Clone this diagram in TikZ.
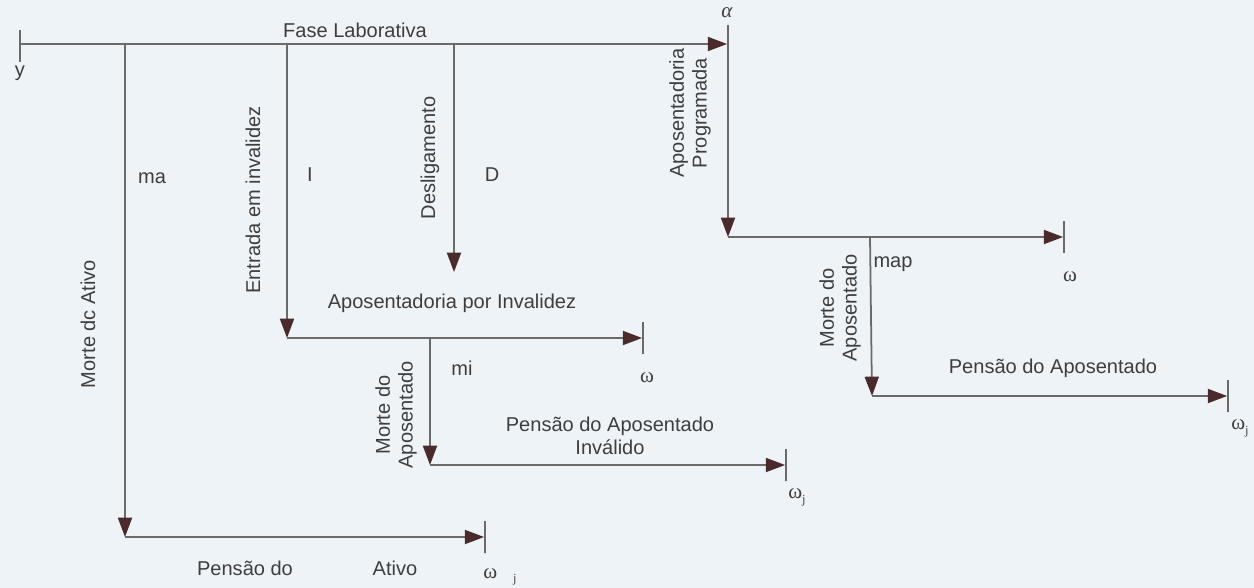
\documentclass[tikz,border=0pt]{standalone}
\usepackage{fontspec}
\setmainfont{Liberation Sans}
\newfontfamily\omfont{Liberation Serif}
\usepackage{tikz}
\usetikzlibrary{arrows.meta, positioning}

\definecolor{paper}{HTML}{EEF3F8}
\definecolor{lineg}{HTML}{6A6A6A}
\definecolor{tipc}{HTML}{4A2A2A}
\definecolor{inkg}{HTML}{3E3E3E}

\tikzset{
  flow/.style={draw=lineg, line width=1pt, -{Triangle[length=11pt, width=8pt, color=tipc]}},
  tickbar/.style={draw=lineg, line width=1pt, minimum width=0pt, minimum height=0.64cm, inner sep=0pt},
  lab/.style={text=inkg, font=\fontsize{11.4}{13}\selectfont, inner sep=0pt},
  vlab/.style={lab, rotate=90, align=center},
  omlab/.style={text=inkg, font=\omfont\fontsize{12}{14}\selectfont, inner sep=0pt}
}

\begin{document}
\begin{tikzpicture}[x=0.02cm, y=-0.02cm]

  % page with the scanned paper tone
  \fill[paper] (0,0) rectangle (1254,588);
  \useasboundingbox (0,0) rectangle (1254,588);

  % Levels of the horizontal lines
  \def\top{44}
  \def\prog{237}
  \def\inv{338}
  \def\pinv{465}
  \def\pap{396}
  \def\pat{537}

  % === Junction points
  \coordinate (start) at (20,\top);
  \coordinate (ma)    at (125,\top);
  \coordinate (ent)   at (287,\top);
  \coordinate (desl)  at (454,\top);
  \coordinate (dEnd)  at (454,272);
  \coordinate (aTop)  at (728,25);
  \coordinate (aRet)  at (728,\prog);
  \coordinate (map)   at (870,\prog);
  \coordinate (mapE)  at (872,\pap);
  \coordinate (iRet)  at (287,\inv);
  \coordinate (mi)    at (430,\inv);
  \coordinate (miE)   at (430,\pinv);
  \coordinate (maE)   at (125,\pat);

  % === End ticks
  \node[tickbar] (tStart) at (20,46) {};
  \node[tickbar] (tAlpha) at (728,\top) {};
  \node[tickbar] (tProg)  at (1064,\prog) {};
  \node[tickbar] (tInv)   at (643,\inv) {};
  \node[tickbar] (tPinv)  at (786,\pinv) {};
  \node[tickbar] (tPap)   at (1228,\pap) {};
  \node[tickbar] (tPat)   at (485,\pat) {};

  % === Fase laborativa
  \draw[flow] (start) -- (tAlpha);
  \draw[flow] (ma) -- (maE);
  \draw[flow] (ent) -- (iRet);
  \draw[flow] (desl) -- (dEnd);
  \draw[flow] (aTop) -- (aRet);

  % === Aposentadorias e pensoes
  \draw[flow] (aRet) -- (tProg);
  \draw[flow] (map) -- (mapE);
  \draw[flow] (mapE) -- (tPap);
  \draw[flow] (iRet) -- (tInv);
  \draw[flow] (mi) -- (miE);
  \draw[flow] (miE) -- (tPinv);
  \draw[flow] (maE) -- (tPat);

  % Labels
  \node[lab] (fase) at (355,30) {Fase Laborativa};
  \node[lab] (y) at (20,73) {y};
  \node[omlab] (alpha) at (727,13) {\itshape α};
  \node[lab] (lma) at (152,178) {ma};
  \node[lab] (lI) at (310,175) {I};
  \node[lab] (lD) at (492,175) {D};
  \node[lab] (lmi) at (462,368) {mi};
  \node[lab] (lmap) at (893,264) {map};

  \node[vlab] (mAtivo) at (88,324) {Morte dc Ativo};
  \node[vlab] (eInv) at (253,200) {Entrada em invalidez};
  \node[vlab] (dsl) at (430,158) {Desligamento};
  \node[vlab] (aProg) at (690,113) {Aposentadoria\\Programada};
  \node[vlab] (mApI) at (396,415) {Morte do\\Aposentado};
  \node[vlab] (mApP) at (840,308) {Morte do\\Aposentado};

  \node[lab] (apInv) at (452,303) {Aposentadoria por Invalidez};
  \node[lab, align=center] (penI) at (610,436) {Pensão do Aposentado\\Inválido};
  \node[lab] (penP) at (1053,368) {Pensão do Aposentado};
  \node[lab] (penA1) at (245,568) {Pensão do};
  \node[lab] (penA2) at (395,568) {Ativo};

  \node[omlab] (wProg) at (1070,277) {ω};
  \node[omlab] (wInv) at (647,378) {ω};
  \node[omlab] (wPinv) at (797,497) {ω\raisebox{-3pt}{\scriptsize j}};
  \node[omlab] (wPap) at (1240,428) {ω\raisebox{-3pt}{\scriptsize j}};
  \node[omlab] (wPat) at (500,577) {ω\hspace{9pt}\raisebox{-2pt}{\scriptsize j}};

\end{tikzpicture}
\end{document}
